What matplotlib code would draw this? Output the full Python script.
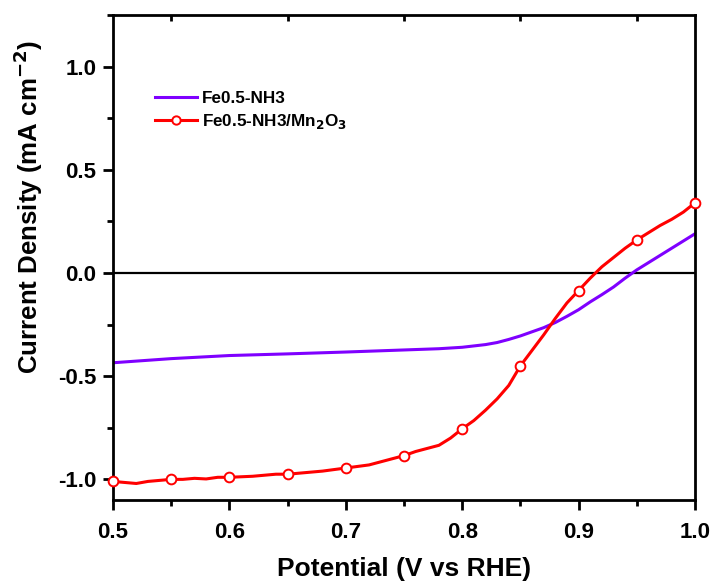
import matplotlib
matplotlib.use("Agg")
import matplotlib.pyplot as plt
from matplotlib.lines import Line2D
from matplotlib.ticker import MultipleLocator, FormatStrFormatter

plt.rcParams['font.family'] = ['Liberation Sans', 'DejaVu Sans']
plt.rcParams['font.weight'] = 'bold'
plt.rcParams['axes.unicode_minus'] = False
plt.rcParams['mathtext.default'] = 'bf'

# Fe0.5-NH3 (purple)
x_fe = [0.50, 0.55, 0.60, 0.65, 0.70, 0.75, 0.78, 0.80, 0.82, 0.83, 0.84, 0.85,
        0.86, 0.87, 0.88, 0.89, 0.90, 0.91, 0.92, 0.93, 0.94, 0.95, 0.96, 0.97,
        0.98, 0.99, 1.00]
y_fe = [-0.435, -0.415, -0.400, -0.392, -0.383, -0.373, -0.367, -0.360, -0.347,
        -0.337, -0.322, -0.305, -0.285, -0.265, -0.240, -0.210, -0.178, -0.140,
        -0.105, -0.068, -0.025, 0.015, 0.050, 0.085, 0.120, 0.155, 0.190]

# Fe0.5-NH3/Mn2O3 (red)
x_mn = [0.50, 0.51, 0.52, 0.53, 0.54, 0.55, 0.56, 0.57, 0.58, 0.59, 0.60, 0.62,
        0.64, 0.65, 0.66, 0.68, 0.70, 0.72, 0.74, 0.75, 0.76, 0.78, 0.79, 0.80,
        0.81, 0.82, 0.83, 0.84, 0.85, 0.86, 0.87, 0.88, 0.89, 0.90, 0.91, 0.92,
        0.93, 0.94, 0.95, 0.96, 0.97, 0.98, 0.99, 1.00]
y_mn = [-1.010, -1.015, -1.020, -1.010, -1.005, -1.000, -1.000, -0.995, -0.998,
        -0.990, -0.990, -0.985, -0.975, -0.975, -0.970, -0.960, -0.945, -0.930,
        -0.900, -0.885, -0.865, -0.835, -0.800, -0.755, -0.715, -0.665, -0.610,
        -0.545, -0.450, -0.375, -0.300, -0.220, -0.145, -0.085, -0.025, 0.030,
        0.075, 0.120, 0.160, 0.195, 0.230, 0.260, 0.295, 0.340]
marker_x = [0.50, 0.55, 0.60, 0.65, 0.70, 0.75, 0.80, 0.85, 0.90, 0.95, 1.00]

labels = ['Fe0.5-NH3', 'Fe0.5-NH3/Mn$_{2}$O$_{3}$']
purple = '#7F00FF'
red = '#FF0000'

fig = plt.figure(figsize=(7.11, 5.81), dpi=100)
ax = fig.add_axes([113/711, 81/581, (695-113)/711, (500-15)/581])

ax.axhline(0, color='black', lw=1.6, zorder=1)
ax.plot(x_fe, y_fe, color=purple, lw=2.2, zorder=2)
mk_idx = [i for i, v in enumerate(x_mn) if any(abs(v - m) < 1e-9 for m in marker_x)]
ax.plot(x_mn, y_mn, color=red, lw=2.2, marker='o', markevery=mk_idx,
        markersize=7, markerfacecolor='white', markeredgecolor=red,
        markeredgewidth=1.4, zorder=3, clip_on=False)

ax.set_xlim(0.5, 1.0)
ax.set_ylim(-1.1, 1.25)
ax.xaxis.set_major_locator(MultipleLocator(0.1))
ax.xaxis.set_minor_locator(MultipleLocator(0.05))
ax.yaxis.set_major_locator(MultipleLocator(0.5))
ax.yaxis.set_minor_locator(MultipleLocator(0.25))
ax.xaxis.set_major_formatter(FormatStrFormatter('%.1f'))
ax.yaxis.set_major_formatter(FormatStrFormatter('%.1f'))

for s in ax.spines.values():
    s.set_linewidth(2.0)

ax.tick_params(which='major', direction='out', length=7, width=2.0,
               labelsize=16, pad=5)
ax.tick_params(which='minor', direction='out', length=4, width=2.0)
ax.tick_params(axis='x', which='major', pad=9)
ax.tick_params(which='both', top=False, right=False)
for lab in ax.get_xticklabels() + ax.get_yticklabels():
    lab.set_fontweight('bold')

# top inward minor ticks
ax_top = ax.secondary_xaxis('top')
ax_top.set_xticks([0.55, 0.65, 0.75, 0.85, 0.95])
ax_top.tick_params(direction='in', length=4, width=2.0, labeltop=False)
ax_top.spines['top'].set_visible(False)

ax.set_xlabel('Potential (V vs RHE)', fontsize=19, fontweight='bold', labelpad=10)
ax.set_ylabel('Current Density (mA cm$^{-2}$)', fontsize=18.6,
              fontweight='bold')
ax.yaxis.set_label_coords(-0.117, 0.605)

handles = [Line2D([], [], color=purple, lw=2.2),
           Line2D([], [], color=red, lw=2.2, marker='o', markersize=6,
                  markerfacecolor='white', markeredgecolor=red, markeredgewidth=1.4)]
leg = ax.legend(handles, labels, loc='upper left', bbox_to_anchor=(0.045, 0.875),
                frameon=False, fontsize=12.3, handlelength=2.5, handletextpad=0.25,
                labelspacing=0.35, numpoints=1)
for t in leg.get_texts():
    t.set_fontweight('bold')

fig.savefig('out.png', dpi=100)
